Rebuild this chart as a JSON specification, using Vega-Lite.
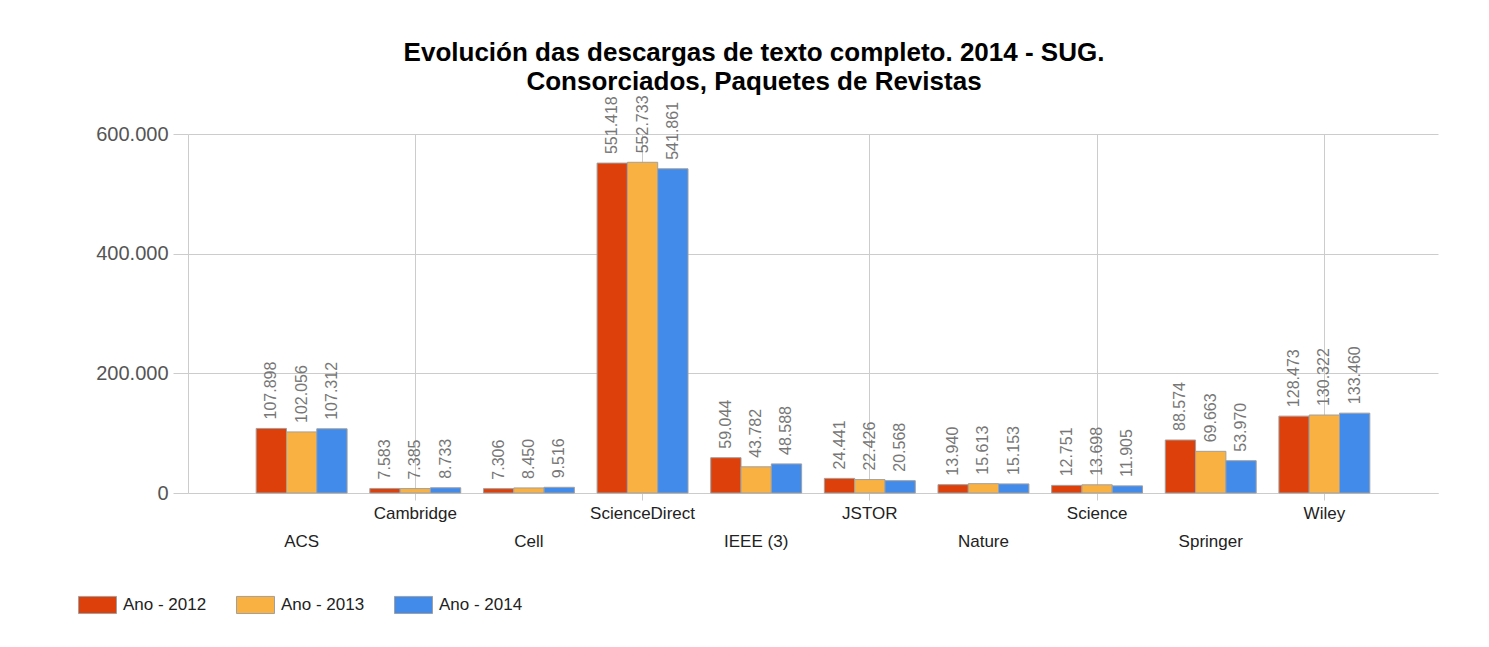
{
  "$schema": "https://vega.github.io/schema/vega-lite/v6.json",
  "width": 1250,
  "height": 359,
  "autosize": {"type": "none"},
  "padding": {"left": 188, "top": 134, "right": 51, "bottom": 154},
  "background": "white",
  "config": {
    "locale": {"number": {"decimal": ",", "thousands": ".", "grouping": [3], "currency": ["", " €"]}},
    "view": {"stroke": null},
    "font": "Liberation Sans"
  },
  "title": {
    "text": ["Evolución das descargas de texto completo. 2014 - SUG.", "Consorciados, Paquetes de Revistas"],
    "font": "Liberation Sans",
    "fontSize": 26,
    "fontWeight": "bold",
    "color": "#000000",
    "lineHeight": 29,
    "frame": "group",
    "anchor": "middle",
    "dx": -59,
    "offset": 0
  },
  "data": {
    "values": [
      {"revista": "ACS", "serie": "Ano - 2012", "valor": 107898},
      {"revista": "ACS", "serie": "Ano - 2013", "valor": 102056},
      {"revista": "ACS", "serie": "Ano - 2014", "valor": 107312},
      {"revista": "Cambridge", "serie": "Ano - 2012", "valor": 7583},
      {"revista": "Cambridge", "serie": "Ano - 2013", "valor": 7385},
      {"revista": "Cambridge", "serie": "Ano - 2014", "valor": 8733},
      {"revista": "Cell", "serie": "Ano - 2012", "valor": 7306},
      {"revista": "Cell", "serie": "Ano - 2013", "valor": 8450},
      {"revista": "Cell", "serie": "Ano - 2014", "valor": 9516},
      {"revista": "ScienceDirect", "serie": "Ano - 2012", "valor": 551418},
      {"revista": "ScienceDirect", "serie": "Ano - 2013", "valor": 552733},
      {"revista": "ScienceDirect", "serie": "Ano - 2014", "valor": 541861},
      {"revista": "IEEE (3)", "serie": "Ano - 2012", "valor": 59044},
      {"revista": "IEEE (3)", "serie": "Ano - 2013", "valor": 43782},
      {"revista": "IEEE (3)", "serie": "Ano - 2014", "valor": 48588},
      {"revista": "JSTOR", "serie": "Ano - 2012", "valor": 24441},
      {"revista": "JSTOR", "serie": "Ano - 2013", "valor": 22426},
      {"revista": "JSTOR", "serie": "Ano - 2014", "valor": 20568},
      {"revista": "Nature", "serie": "Ano - 2012", "valor": 13940},
      {"revista": "Nature", "serie": "Ano - 2013", "valor": 15613},
      {"revista": "Nature", "serie": "Ano - 2014", "valor": 15153},
      {"revista": "Science", "serie": "Ano - 2012", "valor": 12751},
      {"revista": "Science", "serie": "Ano - 2013", "valor": 13698},
      {"revista": "Science", "serie": "Ano - 2014", "valor": 11905},
      {"revista": "Springer", "serie": "Ano - 2012", "valor": 88574},
      {"revista": "Springer", "serie": "Ano - 2013", "valor": 69663},
      {"revista": "Springer", "serie": "Ano - 2014", "valor": 53970},
      {"revista": "Wiley", "serie": "Ano - 2012", "valor": 128473},
      {"revista": "Wiley", "serie": "Ano - 2013", "valor": 130322},
      {"revista": "Wiley", "serie": "Ano - 2014", "valor": 133460}
    ]
  },
  "encoding": {
    "x": {
      "field": "revista",
      "type": "nominal",
      "sort": null,
      "scale": {"paddingInner": 0.2, "paddingOuter": 0.6},
      "axis": {
        "title": null,
        "labelAngle": 0,
        "labelFontSize": 17,
        "labelColor": "#222222",
        "labelBaseline": "top",
        "labelLimit": 300,
        "domainColor": "#cccccc",
        "bandPosition": 0.5,
        "grid": true,
        "gridColor": "#cccccc",
        "gridOpacity": {"condition": {"test": "indexof(['Cambridge','ScienceDirect','JSTOR','Science','Wiley'], datum.value) >= 0", "value": 1}, "value": 0},
        "tickColor": "#cccccc",
        "tickSize": 7,
        "tickOpacity": {"condition": {"test": "indexof(['Cambridge','ScienceDirect','JSTOR','Science','Wiley'], datum.value) >= 0", "value": 1}, "value": 0},
        "labelPadding": {"condition": {"test": "indexof(['ACS','Cell','IEEE (3)','Nature','Springer'], datum.value) >= 0", "value": 33}, "value": 5}
      }
    },
    "xOffset": {"field": "serie", "type": "nominal", "scale": {"paddingInner": 0}},
    "y": {
      "field": "valor",
      "type": "quantitative",
      "scale": {"domain": [0, 600000], "nice": false},
      "axis": {
        "title": null,
        "values": [0, 200000, 400000, 600000],
        "format": ",d",
        "labelFontSize": 20,
        "labelColor": "#555555",
        "labelPadding": 5,
        "gridColor": "#cccccc",
        "tickColor": "#cccccc",
        "tickSize": 15,
        "domainColor": "#cccccc"
      }
    }
  },
  "layer": [
    {
      "mark": {"type": "bar", "stroke": "#a0a0a0", "strokeWidth": 1},
      "encoding": {
        "color": {
          "field": "serie",
          "type": "nominal",
          "scale": {"domain": ["Ano - 2012", "Ano - 2013", "Ano - 2014"], "range": ["#dd400b", "#f9b142", "#428bea"]},
          "legend": {
            "title": null,
            "orient": "none",
            "legendX": -110,
            "legendY": 451,
            "direction": "horizontal",
            "symbolType": "M-1,-0.45L1,-0.45L1,0.45L-1,0.45Z",
            "symbolSize": 1444,
            "symbolStrokeColor": "#a0a0a0",
            "symbolStrokeWidth": 1,
            "symbolOpacity": 1,
            "labelFontSize": 17,
            "labelColor": "#222222",
            "labelOffset": 6,
            "columnPadding": 27
          }
        }
      }
    },
    {
      "mark": {"type": "text", "angle": 270, "align": "left", "baseline": "middle", "dx": 9, "fontSize": 16, "color": "#777777"},
      "encoding": {
        "text": {"field": "valor", "type": "quantitative", "format": ",d"}
      }
    }
  ]
}
